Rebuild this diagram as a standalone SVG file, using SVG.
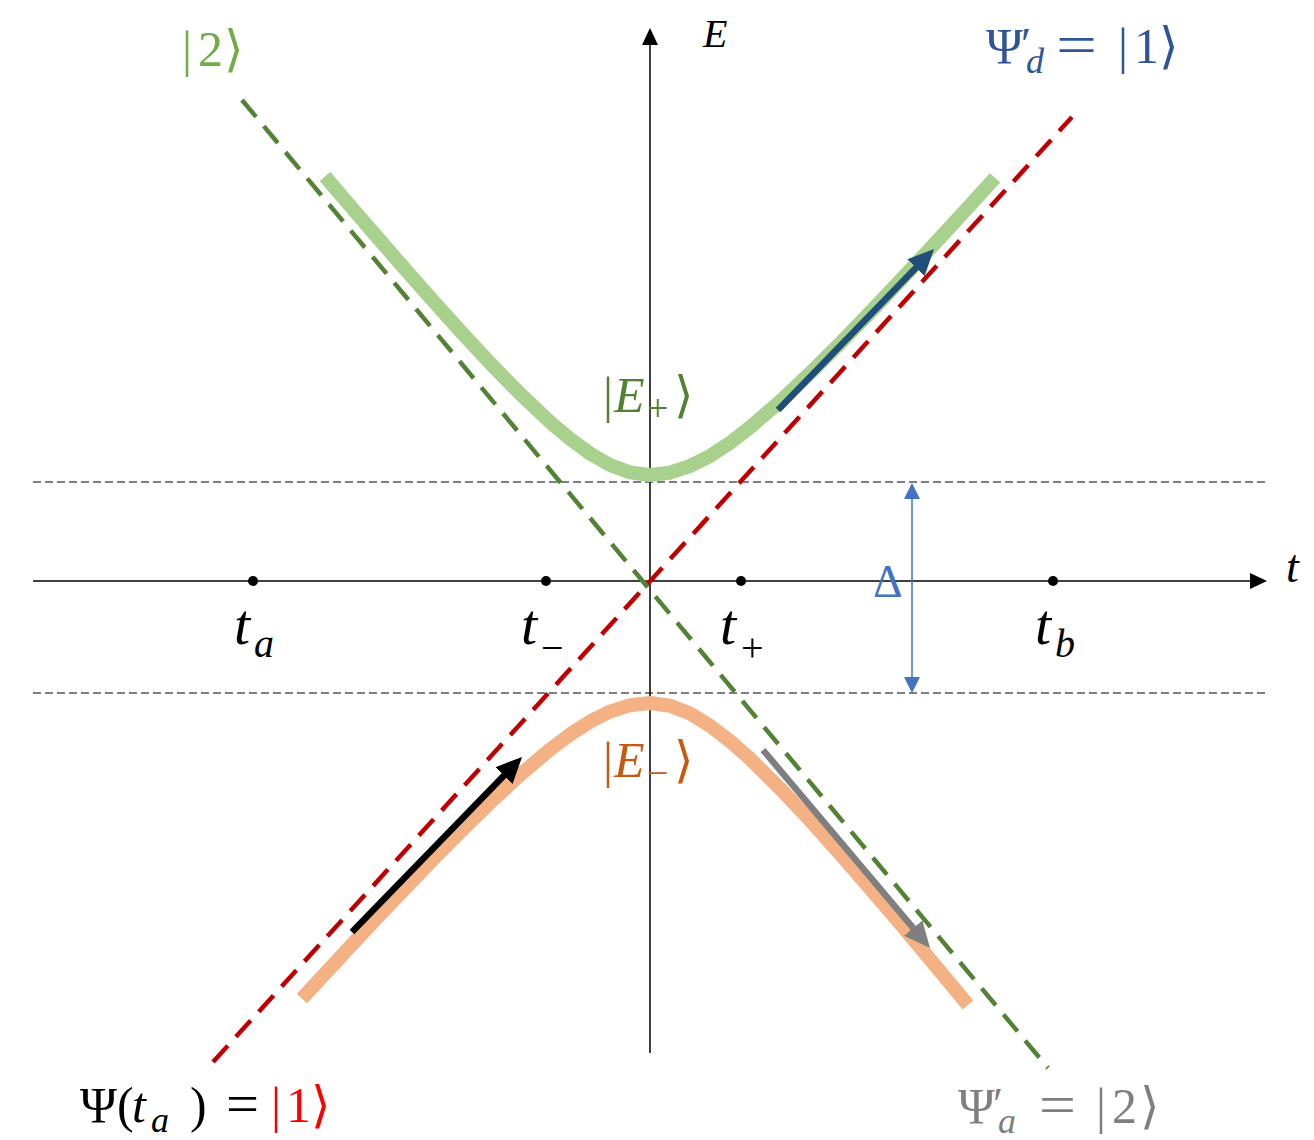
<svg xmlns="http://www.w3.org/2000/svg" width="1314" height="1140" viewBox="0 0 1314 1140">
<style>
.curve{fill:none;stroke-width:14;stroke-linejoin:round;stroke-linecap:butt}
.asym{fill:none;stroke-width:4.5;stroke-dasharray:22 12}
.gd{stroke:#7f7f7f;stroke-width:2;stroke-dasharray:8 4;fill:none}
.axis{stroke:#000;stroke-width:1.5;fill:none}
.m{font-family:"Liberation Serif","DejaVu Serif",serif}
.it{font-style:italic}
.arr{fill:none;stroke-width:6.5}
</style>
<defs>
<marker id="hNavy" markerUnits="userSpaceOnUse" markerWidth="26" markerHeight="24" viewBox="0 0 26 24" refX="6" refY="12" orient="auto"><path d="M0,0 L26,12 L0,24 z" fill="#1f4e79"/></marker>
<marker id="hBlack" markerUnits="userSpaceOnUse" markerWidth="26" markerHeight="24" viewBox="0 0 26 24" refX="6" refY="12" orient="auto"><path d="M0,0 L26,12 L0,24 z" fill="#000"/></marker>
<marker id="hGray" markerUnits="userSpaceOnUse" markerWidth="26" markerHeight="24" viewBox="0 0 26 24" refX="6" refY="12" orient="auto"><path d="M0,0 L26,12 L0,24 z" fill="#7f7f7f"/></marker>
</defs>
<rect width="1314" height="1140" fill="#fff"/>
<g id="gap-lines">
<path class="gd" d="M33,482 H1268"/>
<path class="gd" d="M33,693 H1268"/>
</g>
<g id="axes">
<path class="axis" d="M33,581 H1251"/>
<polygon points="1267,581 1250,573 1250,589" fill="#000"/>
<path class="axis" d="M650,1053 V44"/>
<polygon points="650,28 642,45 658,45" fill="#000"/>
</g>
<g id="curve-upper">
<path class="curve" stroke="#a9d18e" d="M325,176.4 L340,194 L370,228.9 L400,263.4 L430,297.4 L460,330.7 L490,363 L520,393.7 L550,422 L570,438.9 L590,453.5 L610,465 L630,472.4 L650,475 L670,472.7 L690,466.1 L710,455.9 L730,442.8 L750,427.4 L780,401.5 L810,373.2 L840,343.4 L870,312.5 L900,280.9 L930,248.7 L960,216.2 L995,177.9"/>
</g>
<g id="curve-lower">
<path class="curve" stroke="#f4b183" d="M302,998.4 L340,957.4 L370,925.3 L400,893.6 L430,862.5 L460,832.1 L490,802.7 L520,774.9 L550,749.5 L570,734.5 L590,721.6 L610,711.6 L630,705.2 L650,703 L670,705.7 L690,713.6 L710,725.7 L730,741.1 L750,758.8 L780,788.4 L810,820.3 L840,853.8 L870,888.3 L900,923.5 L930,959.2 L968,1005"/>
</g>
<g id="asymptotes">
<path class="asym" stroke="#c00000" d="M213,1062 L1072,117"/>
<path class="asym" stroke="#548235" d="M242,100 L1048,1068"/>
</g>
<g id="time-points">
<circle cx="253" cy="581" r="5" fill="#000"/>
<circle cx="546" cy="581" r="5" fill="#000"/>
<circle cx="741" cy="581" r="5" fill="#000"/>
<circle cx="1053" cy="581" r="5" fill="#000"/>
</g>
<g id="connectors">
<path class="arr" stroke="#1f4e79" d="M778,410 L920.1,263.4" marker-end="url(#hNavy)"/>
<path class="arr" stroke="#000" d="M352,932 L508.1,771.3" marker-end="url(#hBlack)"/>
<path class="arr" stroke="#7f7f7f" d="M763,750 L917.1,932.7" marker-end="url(#hGray)"/>
<g id="delta-arrow">
<path d="M912,498 V678" stroke="#4472c4" stroke-width="1.5" fill="none"/>
<polygon points="912,483 904,499 920,499" fill="#4472c4"/>
<polygon points="912,693 904,677 920,677" fill="#4472c4"/>
</g>
</g>
<g id="labels" class="m">
<text x="703" y="47" font-size="40" class="it">E</text>
<text x="1286" y="582" font-size="46" class="it">t</text>
<text x="873" y="597" font-size="46" fill="#4472c4">Δ</text>
<text y="644" font-size="58"><tspan x="234" class="it">t</tspan><tspan x="254" y="657" font-size="40" class="it">a</tspan></text>
<text y="644" font-size="58"><tspan x="521" class="it">t</tspan><tspan x="541" y="661" font-size="40">−</tspan></text>
<text y="644" font-size="58"><tspan x="720" class="it">t</tspan><tspan x="741" y="661" font-size="40">+</tspan></text>
<text y="644" font-size="58"><tspan x="1035" class="it">t</tspan><tspan x="1055" y="657" font-size="40" class="it">b</tspan></text>
<text y="66" font-size="50" fill="#70ad47" x="182 198 224">|2⟩</text>
<text y="63" font-size="50" fill="#2f5597"><tspan x="986">Ψ</tspan><tspan x="1021" y="60" font-size="46">′</tspan><tspan x="1026" y="73" font-size="36" class="it">d</tspan><tspan x="1056" y="64" font-size="58" textLength="41" lengthAdjust="spacingAndGlyphs">=</tspan><tspan x="1118 1134 1159" y="63">|1⟩</tspan></text>
<text y="412" font-size="50" fill="#548235"><tspan x="603">|</tspan><tspan x="614" class="it">E</tspan><tspan x="647" y="421" font-size="38">+</tspan><tspan x="674" y="412">⟩</tspan></text>
<text y="777" font-size="50" fill="#c55a11"><tspan x="603">|</tspan><tspan x="614" class="it">E</tspan><tspan x="647" y="786" font-size="38">−</tspan><tspan x="674" y="777">⟩</tspan></text>
<text y="1122" font-size="50" fill="#000"><tspan x="80">Ψ</tspan><tspan x="117">(</tspan><tspan x="132" class="it">t</tspan><tspan x="151" y="1132" font-size="36" class="it">a</tspan><tspan x="190" y="1122">)</tspan><tspan x="226" y="1123" font-size="58" textLength="33" lengthAdjust="spacingAndGlyphs">=</tspan><tspan x="271 286 311" y="1122" fill="#ff0000">|1⟩</tspan></text>
<text y="1123" font-size="50" fill="#7f7f7f"><tspan x="958">Ψ</tspan><tspan x="993" y="1120" font-size="46">′</tspan><tspan x="998" y="1133" font-size="36" class="it">a</tspan><tspan x="1039" y="1124" font-size="58" textLength="37" lengthAdjust="spacingAndGlyphs">=</tspan><tspan x="1096 1112 1140" y="1123">|2⟩</tspan></text>
</g>
</svg>
